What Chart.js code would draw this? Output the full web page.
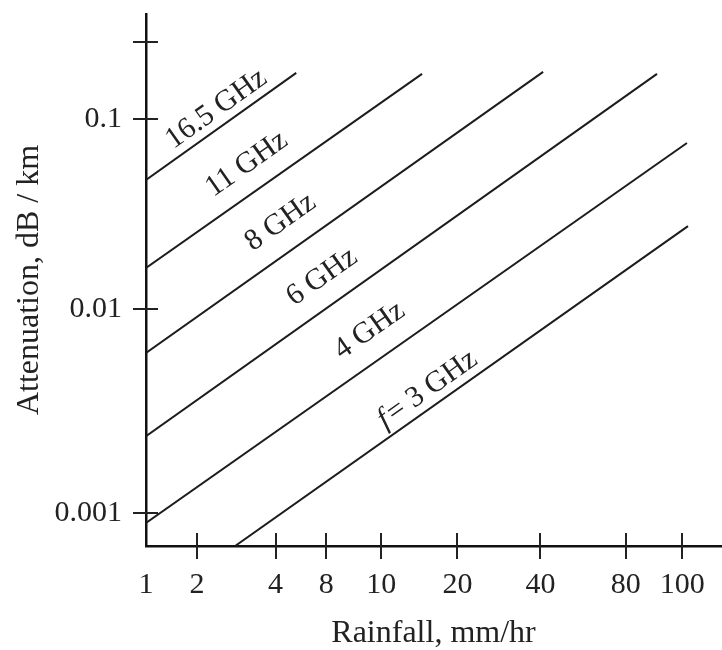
<!DOCTYPE html>
<html><head><meta charset="utf-8">
<script src="https://cdn.jsdelivr.net/npm/chart.js@4.4.1/dist/chart.umd.min.js"></script>
<style>html,body{margin:0;padding:0;background:#fff}#wrap{width:722px;height:650px;position:relative}</style>
</head><body><div id="wrap"><canvas id="c"></canvas></div>
<script>
// ---- Data ----
const rainfallTicks = [1, 2, 4, 8, 10, 20, 40, 80, 100];
const rainfallTickLabels = ['1', '2', '4', '8', '10', '20', '40', '80', '100'];
const attenuationTicks = [0.001, 0.01, 0.1, 0.25];
const attenuationTickLabels = ['0.001', '0.01', '0.1', ''];
const seriesNames = ['16.5 GHz', '11 GHz', '8 GHz', '6 GHz', '4 GHz', 'f = 3 GHz'];
const rainfallStart = [1, 1, 1, 1, 1, 2.80];
const rainfallEnd = [5.31, 14.5, 40.9, 90.5, 103, 103.7];
const attenuationStart = [0.0479, 0.0165, 0.0061, 0.00238, 0.00089, 0.000686];
const attenuationEnd = [0.173, 0.171, 0.175, 0.171, 0.075, 0.0274];

const SERIF = '"Liberation Serif", "Times New Roman", serif';

// Calibration of the printed (hand-drawn, non-uniform) log axes: value -> fraction of axis length
const CALIB = {
  x: [[1, 0], [2, 0.0886], [4, 0.2253], [8, 0.3134], [10, 0.409], [20, 0.5416], [40, 0.6859], [80, 0.8343], [100, 0.9327], [128, 1]],
  y: [[0.000686, 0], [0.001, 0.0626], [0.01, 0.4449], [0.1, 0.8021], [0.25, 0.9479], [0.35, 1]]
};
function calibFrac(knots, v) {
  const lv = Math.log10(v);
  let i = 0;
  while (i < knots.length - 2 && v > knots[i + 1][0]) i++;
  const l0 = Math.log10(knots[i][0]), l1 = Math.log10(knots[i + 1][0]);
  return knots[i][1] + (lv - l0) / (l1 - l0) * (knots[i + 1][1] - knots[i][1]);
}
function calibValue(knots, f) {
  let i = 0;
  while (i < knots.length - 2 && f > knots[i + 1][1]) i++;
  const l0 = Math.log10(knots[i][0]), l1 = Math.log10(knots[i + 1][0]);
  return Math.pow(10, l0 + (f - knots[i][1]) / (knots[i + 1][1] - knots[i][1]) * (l1 - l0));
}
class CalibratedLogScale extends Chart.LogarithmicScale {
  getPixelForValue(value) {
    const f = calibFrac(CALIB[this.id], value);
    return this.isHorizontal() ? this.left + f * this.width : this.bottom - f * this.height;
  }
  getValueForPixel(pixel) {
    const f = this.isHorizontal() ? (pixel - this.left) / this.width : (this.bottom - pixel) / this.height;
    return calibValue(CALIB[this.id], f);
  }
}
CalibratedLogScale.id = 'calibratedLog';
CalibratedLogScale.defaults = Chart.LogarithmicScale.defaults;
Chart.register(CalibratedLogScale);

// Cross-shaped tick marks (ticks cross the axis lines)
const crossTicks = {
  id: 'crossTicks',
  afterDraw(chart) {
    const ctx = chart.ctx, xs = chart.scales.x, ys = chart.scales.y;
    ctx.save();
    ctx.strokeStyle = '#222';
    ctx.lineWidth = 2;
    ctx.beginPath();
    xs.ticks.forEach(t => {
      if (t.value <= xs.min) return;
      const px = Math.round(xs.getPixelForValue(t.value));
      ctx.moveTo(px, xs.top - 13); ctx.lineTo(px, xs.top + 13);
    });
    ys.ticks.forEach(t => {
      const py = Math.round(ys.getPixelForValue(t.value));
      ctx.moveTo(ys.right - 13, py); ctx.lineTo(ys.right + 12, py);
    });
    ctx.stroke();
    ctx.restore();
  }
};

// Rotated labels lying along each line
const labelAlong = [0.534, 0.421, 0.381, 0.376, 0.444, 0.446];
const labelGap = [17, 27, 29, 28, 29, 17];
const lineLabels = {
  id: 'lineLabels',
  afterDatasetsDraw(chart) {
    const ctx = chart.ctx;
    ctx.save();
    ctx.fillStyle = '#222';
    ctx.textBaseline = 'middle';
    chart.data.datasets.forEach((ds, i) => {
      const pts = chart.getDatasetMeta(i).data;
      const p0 = pts[0], p1 = pts[pts.length - 1];
      const a = Math.atan2(p1.y - p0.y, p1.x - p0.x);
      const t = labelAlong[i];
      const cx = p0.x + t * (p1.x - p0.x) + Math.sin(a) * labelGap[i];
      const cy = p0.y + t * (p1.y - p0.y) - Math.cos(a) * labelGap[i];
      const name = ds.label;
      let parts = [[name, false]];
      if (name.startsWith('f ')) parts = [['f', true], [name.slice(2), false]];
      const normal = '30px ' + SERIF, italic = 'italic 30px ' + SERIF;
      const gap = parts.length > 1 ? 3 : 0;
      let total = 0;
      parts.forEach(p => { ctx.font = p[1] ? italic : normal; total += ctx.measureText(p[0]).width; });
      total += gap;
      ctx.translate(cx, cy);
      ctx.rotate(a);
      let x = -total / 2;
      ctx.textAlign = 'left';
      parts.forEach((p, k) => {
        ctx.font = p[1] ? italic : normal;
        ctx.fillText(p[0], x, 0);
        x += ctx.measureText(p[0]).width + (k === 0 ? gap : 0);
      });
      ctx.setTransform(1, 0, 0, 1, 0, 0);
    });
    ctx.restore();
  }
};

const datasets = seriesNames.map((name, i) => ({
  label: name,
  data: [{ x: rainfallStart[i], y: attenuationStart[i] }, { x: rainfallEnd[i], y: attenuationEnd[i] }],
  showLine: true,
  borderColor: '#1c1c1c',
  borderWidth: 2,
  pointRadius: 0,
  fill: false,
  tension: 0
}));

new Chart(document.getElementById('c'), {
  type: 'scatter',
  data: { datasets },
  options: {
    responsive: true,
    maintainAspectRatio: false,
    animation: false,
    devicePixelRatio: 1,
    layout: { padding: { top: 14, right: 1, left: 0, bottom: 0 } },
    plugins: { legend: { display: false }, tooltip: { enabled: false } },
    scales: {
      x: {
        type: 'calibratedLog',
        position: 'bottom',
        min: 1, max: 128,
        afterBuildTicks: s => { s.ticks = rainfallTicks.map(v => ({ value: v })); },
        afterFit: s => { s.height = 104; s.paddingLeft = 0; s.paddingRight = 0; },
        ticks: {
          autoSkip: false, maxRotation: 0, minRotation: 0, padding: 21,
          color: '#222', font: { family: SERIF, size: 30 },
          callback: (v, i) => rainfallTickLabels[i]
        },
        grid: { display: true, drawOnChartArea: false, drawTicks: false },
        border: { display: true, color: '#111', width: 2.5 },
        title: { display: true, text: 'Rainfall, mm/hr', color: '#222', font: { family: SERIF, size: 32, lineHeight: 1 }, padding: 0 }
      },
      y: {
        type: 'calibratedLog',
        position: 'left',
        min: 0.000686, max: 0.35,
        afterBuildTicks: s => { s.ticks = attenuationTicks.map(v => ({ value: v })); },
        afterFit: s => { s.width = 146; s.paddingTop = 0; s.paddingBottom = 0; },
        ticks: {
          autoSkip: false, padding: 24,
          color: '#222', font: { family: SERIF, size: 30 },
          callback: (v, i) => attenuationTickLabels[i]
        },
        grid: { display: true, drawOnChartArea: false, drawTicks: false },
        border: { display: true, color: '#111', width: 2.5 },
        title: { display: true, text: 'Attenuation, dB / km', color: '#222', font: { family: SERIF, size: 32, lineHeight: 1 }, padding: { top: 14, bottom: 0 } }
      }
    }
  },
  plugins: [crossTicks, lineLabels]
});
</script>
</body></html>
